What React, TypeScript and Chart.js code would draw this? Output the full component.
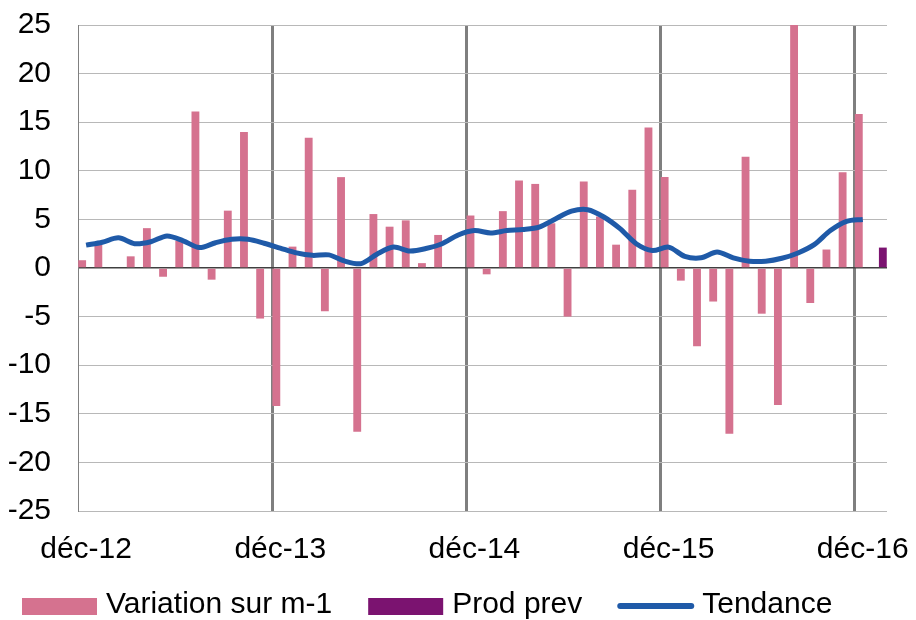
import React, { useEffect, useRef } from "react";
import { Chart, registerables } from "chart.js";

Chart.register(...registerables);

const categories = [
  "déc-12", "janv-13", "févr-13", "mars-13", "avr-13", "mai-13", "juin-13", "juil-13", "août-13", "sept-13", "oct-13", "nov-13",
  "déc-13", "janv-14", "févr-14", "mars-14", "avr-14", "mai-14", "juin-14", "juil-14", "août-14", "sept-14", "oct-14", "nov-14",
  "déc-14", "janv-15", "févr-15", "mars-15", "avr-15", "mai-15", "juin-15", "juil-15", "août-15", "sept-15", "oct-15", "nov-15",
  "déc-15", "janv-16", "févr-16", "mars-16", "avr-16", "mai-16", "juin-16", "juil-16", "août-16", "sept-16", "oct-16", "nov-16",
  "déc-16", "janv-17",
];

const variation = [
  0.8, 2.4, 0, 1.2, 4.1, -0.9, 2.8, 16.1, -1.2, 5.9, 14.0, -5.2,
  -14.2, 2.2, 13.4, -4.45, 9.35, -16.85, 5.55, 4.25, 4.9, 0.5, 3.4, 0,
  5.4, -0.65, 5.85, 9.0, 8.65, 4.6, -5.0, 8.9, 5.3, 2.4, 8.05, 14.45,
  9.35, -1.3, -8.05, -3.45, -17.05, 11.45, -4.7, -14.1, 25, -3.6, 1.9, 9.85,
  15.85, null,
];

const prodPrev = [
  null, null, null, null, null, null, null, null, null, null, null, null,
  null, null, null, null, null, null, null, null, null, null, null, null,
  null, null, null, null, null, null, null, null, null, null, null, null,
  null, null, null, null, null, null, null, null, null, null, null, null,
  null, 2.1,
];

const tendance = [
  2.35, 2.65, 3.1, 2.5, 2.7, 3.3, 2.8, 2.1, 2.6, 2.95, 2.95, 2.55,
  2.05, 1.55, 1.3, 1.35, 0.7, 0.45, 1.45, 2.15, 1.75, 2.0, 2.5, 3.4,
  3.85, 3.6, 3.85, 3.95, 4.2, 5.05, 5.85, 6.0, 5.25, 4.05, 2.5, 1.8,
  2.15, 1.2, 1.05, 1.65, 1.05, 0.7, 0.7, 1.0, 1.55, 2.4, 3.85, 4.8,
  5.0, null,
];

const yTicks = [-25, -20, -15, -10, -5, 0, 5, 10, 15, 20, 25];

const seriesNames = ["Variation sur m-1", "Prod prev", "Tendance"];

const FONT = '"Liberation Sans", Arial, sans-serif';

const legendPlugin = {
  id: "customLegend",
  afterDraw(chart: any) {
    const ctx = chart.ctx;
    ctx.save();
    ctx.font = `30px ${FONT}`;
    ctx.textBaseline = "alphabetic";
    ctx.textAlign = "left";
    let x = 22;
    const yText = 613;
    chart.data.datasets.forEach((ds: any) => {
      const symW = 75;
      if (ds.type === "line") {
        ctx.strokeStyle = ds.borderColor;
        ctx.lineWidth = 6;
        ctx.lineCap = "round";
        ctx.beginPath();
        ctx.moveTo(x + 2, 606);
        ctx.lineTo(x + symW - 2, 606);
        ctx.stroke();
      } else {
        ctx.fillStyle = ds.backgroundColor;
        ctx.fillRect(x, 598, symW, 17);
      }
      x += symW + 9;
      ctx.fillStyle = "#000";
      ctx.fillText(ds.label, x, yText);
      x += ctx.measureText(ds.label).width + 36;
    });
    ctx.restore();
  },
};

export default function App() {
  const ref = useRef<HTMLCanvasElement>(null);

  useEffect(() => {
    document.body.style.margin = "0";
    if (!ref.current) return;
    Chart.defaults.font.family = FONT;
    Chart.defaults.font.size = 30;
    Chart.defaults.color = "#000";
    const chart = new Chart(ref.current, {
      type: "bar",
      data: {
        labels: categories,
        datasets: [
          {
            type: "bar",
            label: seriesNames[0],
            data: variation,
            backgroundColor: "#D5728F",
            borderWidth: 0,
            categoryPercentage: 0.97,
            barPercentage: 1,
            order: 1,
          } as any,
          {
            type: "bar",
            label: seriesNames[1],
            data: prodPrev,
            backgroundColor: "#7B1370",
            borderWidth: 0,
            categoryPercentage: 0.97,
            barPercentage: 1,
            order: 2,
          } as any,
          {
            type: "line",
            label: seriesNames[2],
            data: tendance,
            borderColor: "#1F5AA8",
            backgroundColor: "#1F5AA8",
            borderWidth: 5,
            pointRadius: 0,
            tension: 0.3,
            fill: false,
            order: 0,
          } as any,
        ],
      },
      options: {
        responsive: false,
        animation: false,
        layout: { padding: { top: 25, bottom: 60, left: 0, right: 29 } },
        plugins: {
          legend: { display: false },
          tooltip: { enabled: false },
        },
        scales: {
          x: {
            offset: true,
            grid: {
              offset: true,
              drawTicks: false,
              color: (c: any) =>
                c.index !== undefined && c.index > 0 && c.index % 12 === 0 ? "#7F7F7F" : "rgba(0,0,0,0)",
              lineWidth: 3,
            },
            border: { display: false },
            ticks: {
              autoSkip: false,
              maxRotation: 0,
              minRotation: 0,
              padding: 21,
              font: { size: 30 },
              callback: (_v: any, i: number) => (i % 12 === 0 ? categories[i] : ""),
            },
            afterFit: (s: any) => {
              s.height = 49;
              s.paddingLeft = 0;
              s.paddingRight = 0;
              s.paddingTop = 0;
              s.paddingBottom = 0;
            },
          },
          y: {
            min: yTicks[0],
            max: yTicks[yTicks.length - 1],
            afterBuildTicks: (s: any) => {
              s.ticks = yTicks.map((v) => ({ value: v }));
            },
            grid: {
              drawTicks: false,
              color: (c: any) => (c.tick && c.tick.value === 0 ? "#404040" : "#B8B8B8"),
              lineWidth: (c: any) => (c.tick && c.tick.value === 0 ? 1.5 : 1),
            },
            border: { display: true, color: "#808080", width: 1 },
            ticks: {
              padding: 27,
              font: { size: 30 },
            },
            afterFit: (s: any) => {
              s.width = 78;
              s.paddingTop = 0;
              s.paddingBottom = 0;
              s.paddingLeft = 0;
              s.paddingRight = 0;
            },
          },
        },
      },
      plugins: [legendPlugin],
    });
    return () => chart.destroy();
  }, []);

  return (
    <div style={{ width: 916, height: 620, background: "#fff" }}>
      <canvas ref={ref} width={916} height={620} />
    </div>
  );
}
